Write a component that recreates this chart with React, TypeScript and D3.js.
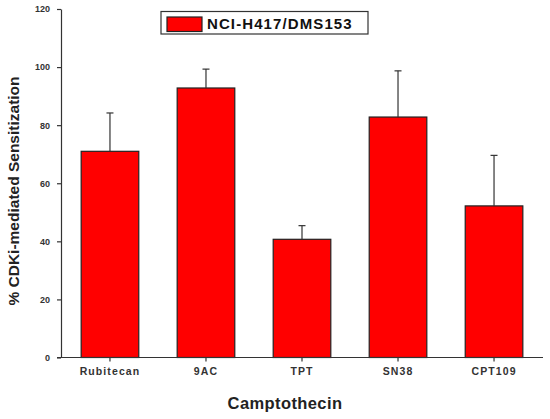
import React, { useEffect, useRef } from 'react';
import * as d3 from 'd3';

const categories = ['Rubitecan', '9AC', 'TPT', 'SN38', 'CPT109'];
const means = [71, 92.8, 40.7, 82.8, 52.2];
const errors = [13.2, 6.5, 4.7, 15.9, 17.4];
const yTicks = [0, 20, 40, 60, 80, 100, 120];
const seriesName = 'NCI-H417/DMS153';

const App: React.FC = () => {
  const svgRef = useRef<SVGSVGElement>(null);

  useEffect(() => {
    if (!svgRef.current) return;
    const svg = d3.select(svgRef.current);
    svg.selectAll('*').remove();

    const left = 61, right = 543, top = 9, bottom = 357.5;
    const axisColor = '#333';
    const font = 'Arial, "Liberation Sans", sans-serif';

    const x = d3.scaleBand<string>()
      .domain(categories)
      .range([left, right])
      .paddingInner(0.4)
      .paddingOuter(0.21);

    const y = d3.scaleLinear().domain([0, 120]).range([bottom, top]);

    // Bars
    svg.append('g')
      .selectAll('rect')
      .data(categories)
      .enter()
      .append('rect')
      .attr('x', d => x(d)!)
      .attr('y', (_, i) => y(means[i]))
      .attr('width', x.bandwidth())
      .attr('height', (_, i) => bottom - y(means[i]))
      .attr('fill', '#ff0000')
      .attr('stroke', '#222')
      .attr('stroke-width', 1.2);

    // Error bars (upper only)
    const eb = svg.append('g').attr('stroke', '#333').attr('stroke-width', 1.2);
    categories.forEach((c, i) => {
      const cx = x(c)! + x.bandwidth() / 2;
      eb.append('line')
        .attr('x1', cx).attr('x2', cx)
        .attr('y1', y(means[i])).attr('y2', y(means[i] + errors[i]));
      eb.append('line')
        .attr('x1', cx - 3.5).attr('x2', cx + 3.5)
        .attr('y1', y(means[i] + errors[i])).attr('y2', y(means[i] + errors[i]));
    });

    // Y axis
    const yAxis = svg.append('g')
      .attr('transform', `translate(${left},0)`)
      .call(d3.axisLeft(y).tickValues(yTicks).tickSize(4).tickPadding(7).tickSizeOuter(0));
    yAxis.select('.domain').attr('stroke', axisColor).attr('stroke-width', 1.2);
    yAxis.selectAll('.tick line').attr('stroke', axisColor).attr('stroke-width', 1.2);
    yAxis.selectAll('.tick text')
      .attr('fill', axisColor)
      .style('font-family', font)
      .style('font-size', '9px')
      .style('font-weight', 'bold');

    // X axis
    const xAxis = svg.append('g')
      .attr('transform', `translate(0,${bottom})`)
      .call(d3.axisBottom(x).tickSize(4).tickPadding(6).tickSizeOuter(0));
    xAxis.select('.domain').attr('stroke', axisColor).attr('stroke-width', 1.2)
      .attr('d', `M${left - 4},0H${right}`);
    xAxis.selectAll('.tick line').attr('stroke', axisColor).attr('stroke-width', 1.2);
    xAxis.selectAll('.tick text')
      .attr('fill', axisColor)
      .style('font-family', font)
      .style('font-size', '10.5px')
      .style('font-weight', 'bold')
      .style('letter-spacing', '1.1px');

    // Axis titles
    svg.append('text')
      .attr('x', 285)
      .attr('y', 409)
      .attr('text-anchor', 'middle')
      .style('font-family', font)
      .style('font-size', '16.5px')
      .style('font-weight', 'bold')
      .style('letter-spacing', '0.4px')
      .attr('fill', '#222')
      .text('Camptothecin');

    svg.append('text')
      .attr('transform', `translate(19,191) rotate(-90)`)
      .attr('text-anchor', 'middle')
      .style('font-family', font)
      .style('font-size', '15.5px')
      .style('font-weight', 'bold')
      .attr('fill', '#222')
      .text('% CDKi-mediated Sensitization');

    // Legend
    const legend = svg.append('g');
    legend.append('rect')
      .attr('x', 161).attr('y', 11.5)
      .attr('width', 207).attr('height', 22.5)
      .attr('fill', '#fff')
      .attr('stroke', '#333')
      .attr('stroke-width', 1.2);
    legend.append('rect')
      .attr('x', 167).attr('y', 17)
      .attr('width', 35).attr('height', 14.5)
      .attr('fill', '#ff0000')
      .attr('stroke', '#222')
      .attr('stroke-width', 1.2);
    legend.append('text')
      .attr('x', 207).attr('y', 28.5)
      .style('font-family', font)
      .style('font-size', '15px')
      .style('font-weight', 'bold')
      .style('letter-spacing', '1.1px')
      .attr('fill', '#111')
      .text(seriesName);
  }, []);

  return (
    <svg ref={svgRef} width={550} height={419} style={{ position: 'absolute', left: 0, top: 0, background: '#fff' }} />
  );
};

export default App;
